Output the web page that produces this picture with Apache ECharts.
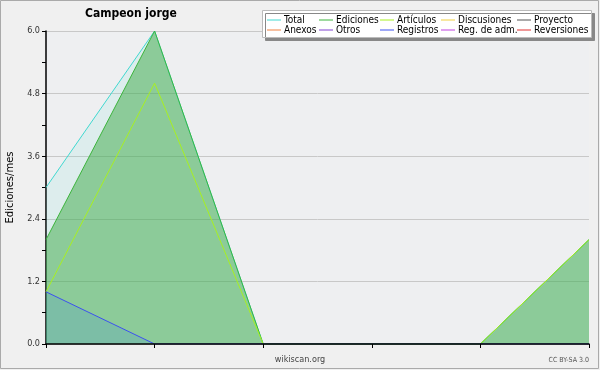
<!DOCTYPE html>
<html><head><meta charset="utf-8">
<script src="https://cdn.jsdelivr.net/npm/echarts@6/dist/echarts.min.js"></script>
<style>html,body{margin:0;padding:0;background:#f0f0f0;}#c{width:600px;height:370px;}</style>
</head><body><div id="c"></div>
<script>
const categories = ['1','2','3','4','5','6'];
const total = [3, 6, 0, 0, 0, 2];
const ediciones = [2, 6, 0, 0, 0, 2];
const articulos = [1, 5, 0, 0, 0, 2];
const registros = [1, 0, 0, 0, 0, 0];
const yTicks = [0, 1.2, 2.4, 3.6, 4.8, 6.0];
const legendCols = [['Total','Anexos'],['Ediciones','Otros'],['Artículos','Registros'],['Discusiones','Reg. de adm.'],['Proyecto','Reversiones']];
const legendX = [267, 319, 380, 441, 517];

const chart = echarts.init(document.getElementById('c'));
const font = 'DejaVu Sans Condensed, DejaVu Sans';
function emptySeries(name, color){ return {name, type:'line', color, data:[], symbol:'none'}; }
const legends = legendCols.map((col,i)=>({
  orient:'vertical', left: legendX[i], top: 15, z: 10, padding:0,
  icon:'rect', itemWidth:14, itemHeight:1, itemGap:0,
  data: col, selectedMode:false,
  textStyle:{fontFamily:font, fontSize:10, color:'#000', lineHeight:10, padding:[0,0,0,-2]}
}));
chart.setOption({
  animation:false,
  backgroundColor:'#f0f0f0',
  title:{text:'Campeon jorge', left:85, top:8, padding:0, textStyle:{fontFamily:font, fontSize:12, fontWeight:'bold', color:'#000'}},
  graphic:[
    {type:'rect', z:0, shape:{x:0.5,y:0.5,width:598,height:368}, style:{fill:'none', stroke:'#aaa', lineWidth:1}},
    {type:'rect', z:1, shape:{x:262.5,y:10.5,width:329,height:27}, style:{fill:'#fff', stroke:'#bbb', lineWidth:1, shadowColor:'#888', shadowOffsetX:3, shadowOffsetY:3, shadowBlur:0}},
    {type:'text', left:'center', top:355, style:{text:'wikiscan.org', font:'9px '+font, fill:'#444'}},
    {type:'text', right:11, top:357, style:{text:'CC BY-SA 3.0', font:'7px '+font, fill:'#555'}}
  ],
  legend: legends,
  grid:{left:46, right:11, top:31, bottom:26, show:true, backgroundColor:'#eeeff1', borderWidth:0, containLabel:false, outerBoundsMode:'none'},
  xAxis:{type:'category', data:categories, boundaryGap:false, z:10,
    axisLine:{lineStyle:{color:'#000', width:1.5}},
    axisTick:{show:true, length:4, lineStyle:{color:'#000'}},
    axisLabel:{show:false}, splitLine:{show:false}},
  yAxis:{type:'value', min:yTicks[0], max:yTicks[yTicks.length-1], interval:yTicks[1]-yTicks[0],
    name:'Ediciones/mes', nameLocation:'middle', nameGap:31, nameRotate:90,
    nameTextStyle:{fontFamily:'DejaVu Sans', fontSize:10, color:'#000'},
    axisLine:{show:true, lineStyle:{color:'#000', width:1.5}},
    axisTick:{show:true, length:4, lineStyle:{color:'#000'}},
    minorTick:{show:true, splitNumber:2, length:4, lineStyle:{color:'#000'}},
    axisLabel:{fontFamily:font, fontSize:9, color:'#333', margin:6, formatter:v=>v.toFixed(1)},
    splitLine:{show:true, lineStyle:{color:'#c8c8c8', width:1}}},
  series:[
    {name:'Total', type:'line', color:'#40d8d0', data:total, symbol:'none', lineStyle:{width:1}, areaStyle:{color:'rgba(120,230,210,0.14)', opacity:1}},
    {name:'Ediciones', type:'line', color:'#3cb43c', data:ediciones, symbol:'none', lineStyle:{width:1}, areaStyle:{color:'rgba(60,170,70,0.5)', opacity:1}},
    {name:'Artículos', type:'line', color:'#a8f020', data:articulos, symbol:'none', lineStyle:{width:1}},
    emptySeries('Discusiones','#f0d040'),
    emptySeries('Proyecto','#555555'),
    emptySeries('Anexos','#f08040'),
    emptySeries('Otros','#8040d0'),
    {name:'Registros', type:'line', color:'#3c50f0', data:registros, symbol:'none', lineStyle:{width:1}, areaStyle:{color:'rgba(60,140,220,0.2)', opacity:1}},
    emptySeries('Reg. de adm.','#c040e0'),
    emptySeries('Reversiones','#e03030')
  ]
});
</script></body></html>
